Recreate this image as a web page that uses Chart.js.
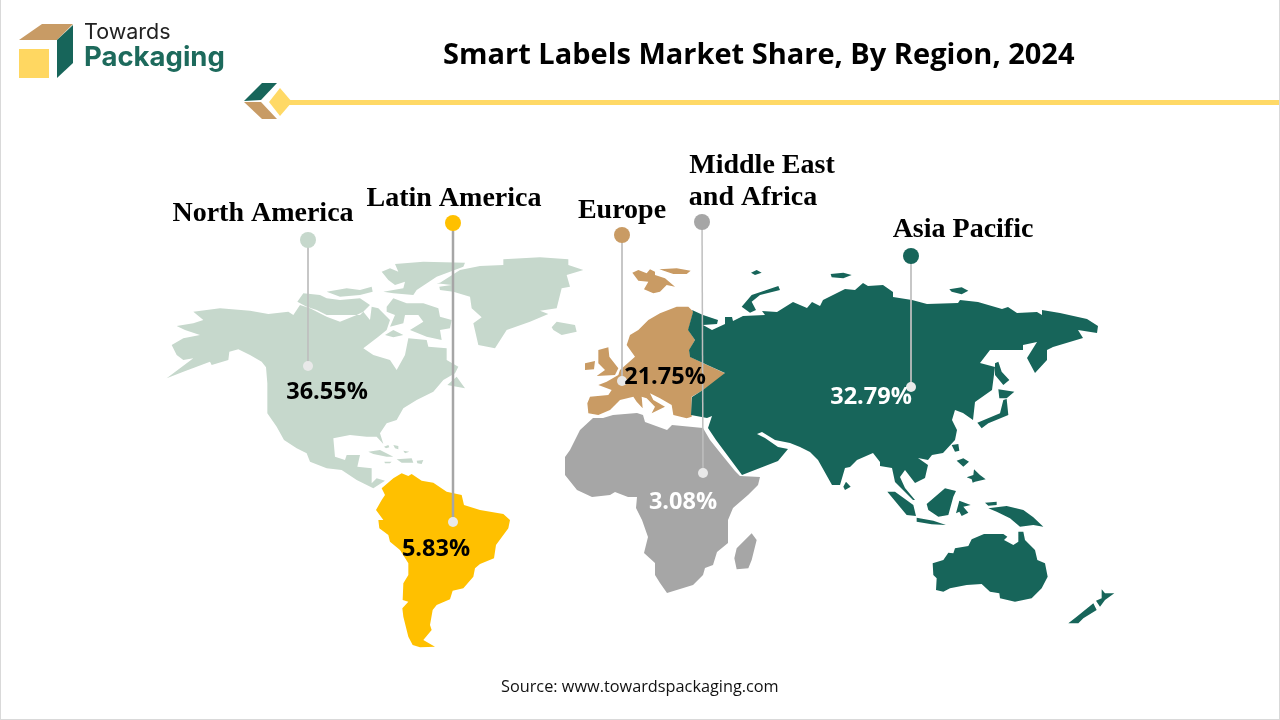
<!DOCTYPE html>
<html>
<head>
<meta charset="utf-8">
<title>Smart Labels Market Share, By Region, 2024</title>
<script src="https://cdn.jsdelivr.net/npm/chart.js@4"></script>
<style>
    html, body { margin: 0; padding: 0; background: #fff; }
    #page { position: relative; width: 1280px; height: 720px; overflow: hidden; }
    #page canvas { position: absolute; left: 0; top: 0; }
    #page svg { position: absolute; left: 0; top: 0; }
    #frame { position: absolute; left: 0; top: 0; width: 1278px; border: 1px solid #d9d9d9; border-top: 0; height: 719px; }
    .txt { position: absolute; white-space: nowrap; }
    #title { left: 443px; top: 33px; font: bold 29px "Open Sans", sans-serif; color: #000; }
    #brand1 { left: 84px; top: 18px; font: 21.5px Inter, sans-serif; color: #222; }
    #brand2 { left: 84px; top: 39px; font: bold 27.5px Inter, sans-serif; color: #1d6a5c; }
    #source { left: 501px; top: 675px; font: 16.3px "Open Sans", sans-serif; color: #111; }
</style>
</head>
<body>
<div id="page">
    <canvas id="mapa" width="1280" height="720"></canvas>
    <svg width="1280" height="130">
        <polygon points="19,40 42,24 73,24 57,40" fill="#c89b65"/>
        <polygon points="57,40 73,25 73,63 57,78" fill="#17655a"/>
        <rect x="19" y="49" width="30" height="29" fill="#ffd761"/>
        <rect x="288" y="100" width="992" height="5" fill="#ffd966"/>
        <polygon points="244,101 262,83 277,83 261,100" fill="#17655a"/>
        <polygon points="244,102 261,102 277,119 262,119" fill="#c89b65"/>
        <polygon points="269,102 280,88 292,102 280,116" fill="#ffd966"/>
    </svg>
    <div class="txt" id="brand1">Towards</div>
    <div class="txt" id="brand2">Packaging</div>
    <div class="txt" id="title">Smart Labels Market Share, By Region, 2024</div>
    <div class="txt" id="source">Source: www.towardspackaging.com</div>
    <div id="frame"></div>
</div>
<script>
const regions = ['North America', 'Latin America', 'Europe', 'Middle East\nand Africa', 'Asia Pacific'];
const shares = [36.55, 5.83, 21.75, 3.08, 32.79];

const regionColors = ['#c6d8cc', '#ffc000', '#c99b64', '#a6a6a6', '#17655a'];
const shareColors = ['#000', '#000', '#000', '#fff', '#fff'];
const pinTop = [[308, 240], [453, 223], [622, 235], [702, 222], [911, 256]];
const pinEnd = [[308, 366], [453, 522], [622, 381], [703, 473], [911, 387]];
const lineWidths = [1, 2.5, 1, 1.5, 1];
const nameSpots = [[263, 214], [454, 199], [622, 211], [762, 166], [963, 230]];
const shareSpots = [[327, 392], [436, 549], [665, 377], [683, 502], [871, 397]];

function crop(ox, oy, pts) {
    return pts.map(p => [ox + p[0] / 3, oy + p[1] / 3]);
}

const northAmerica = [
    crop(160, 240, [[20,415],[70,395],[150,365],[155,375],[205,360],[208,335],[235,328],[270,345],[305,365],[318,382],[322,430],[322,520],[350,560],[372,600],[410,625],[440,640],[450,665],[500,685],[545,690],[590,720],[640,745],[675,722],[650,715],[635,730],[635,685],[592,680],[600,645],[560,645],[555,660],[525,650],[520,595],[570,585],[620,590],[650,590],[670,612],[660,580],[680,550],[710,540],[730,505],[770,480],[820,455],[850,420],[885,400],[895,380],[860,360],[860,325],[805,320],[800,300],[745,295],[735,345],[710,390],[690,360],[640,345],[610,325],[655,290],[680,270],[690,240],[655,205],[635,200],[630,240],[610,215],[590,225],[540,245],[500,230],[450,205],[420,195],[400,225],[385,215],[325,222],[270,212],[180,205],[100,215],[130,240],[100,250],[50,258],[75,270],[120,285],[70,295],[35,315],[50,345],[70,360],[100,355],[60,385]]),
    crop(160, 240, [[412,185],[430,160],[480,165],[500,175],[540,180],[600,175],[630,195],[600,225],[545,225],[500,225],[470,210],[440,200]]),
    crop(160, 240, [[500,155],[560,145],[600,150],[635,140],[638,155],[600,165],[540,170]]),
    crop(160, 240, [[680,200],[700,175],[740,190],[790,190],[835,205],[840,230],[875,240],[870,265],[840,270],[845,300],[800,290],[750,270],[790,245],[775,225],[735,225],[730,250],[690,260],[705,225],[680,215]]),
    crop(160, 240, [[675,285],[700,270],[730,285],[700,292]]),
    crop(160, 240, [[705,72],[790,65],[915,68],[910,80],[830,110],[770,150],[760,165],[700,160],[670,155],[700,150],[730,145],[735,125],[705,135],[685,120],[665,95],[690,85],[715,95]]),
    crop(160, 240, [[840,128],[900,90],[960,78],[1030,75],[1030,58],[1140,52],[1225,58],[1225,75],[1270,90],[1220,105],[1230,140],[1205,145],[1190,205],[1140,212],[1165,222],[1110,245],[1040,270],[1005,325],[955,315],[940,250],[965,232],[935,205],[930,170],[880,155],[840,150],[838,140],[875,135],[830,130]]),
    crop(160, 240, [[1175,262],[1190,245],[1245,255],[1250,275],[1205,285],[1180,270]]),
    crop(160, 240, [[862,435],[890,410],[915,445],[890,440]]),
    crop(160, 240, [[625,635],[660,630],[700,650],[680,650],[640,642]]),
    crop(160, 240, [[710,658],[755,655],[760,668],[725,668]]),
    crop(160, 240, [[673,665],[695,665],[690,670],[675,670]]),
    crop(160, 240, [[770,662],[790,660],[785,672],[772,670]]),
    crop(160, 240, [[672,620],[685,615],[688,622],[678,625]]),
    crop(160, 240, [[700,615],[715,618],[715,628],[705,625]]),
    crop(160, 240, [[730,632],[748,635],[735,640]])
];

const latinAmerica = [
    crop(340, 440, [[125,145],[160,115],[185,100],[205,108],[215,102],[245,122],[280,128],[320,155],[365,165],[372,195],[420,210],[490,222],[510,240],[505,265],[468,315],[462,355],[420,372],[405,385],[400,410],[370,445],[338,452],[330,478],[290,495],[278,510],[270,555],[275,570],[250,600],[285,620],[240,622],[218,615],[205,590],[190,530],[187,505],[205,485],[188,480],[190,430],[205,405],[205,370],[180,330],[150,305],[145,285],[118,265],[115,240],[130,240],[108,210],[125,180],[135,165]])
];

const europe = [
    crop(570, 250, [[52,460],[60,440],[115,435],[125,420],[85,405],[110,395],[145,375],[150,360],[195,320],[170,285],[180,255],[205,240],[235,210],[270,190],[320,170],[355,170],[370,185],[355,240],[375,270],[358,300],[360,320],[400,340],[465,370],[440,395],[400,420],[365,440],[365,500],[350,505],[310,495],[305,465],[270,445],[240,430],[250,450],[285,470],[245,490],[255,470],[230,445],[215,440],[218,475],[200,455],[190,440],[150,450],[120,480],[85,495],[55,490]]),
    crop(570, 250, [[85,300],[115,292],[118,320],[145,355],[135,375],[80,378],[105,360],[85,340],[85,325]]),
    crop(570, 250, [[45,340],[75,333],[72,358],[45,360]]),
    crop(570, 250, [[187,68],[205,60],[230,70],[240,58],[255,65],[255,75],[285,85],[315,110],[290,105],[270,125],[250,130],[222,118],[235,95],[205,92]]),
    crop(570, 250, [[268,58],[320,55],[362,62],[350,72],[310,72]])
];

const africa = [
    [[570,450],[580,430],[593,418],[603,418],[613,415],[637,413],[643,415],[645,422],[667,430],[672,425],[703,428],[710,440],[722,455],[735,471],[740,476],[760,477],[758,485],[748,495],[733,508],[728,520],[728,543],[717,552],[713,565],[705,568],[703,575],[693,585],[667,593],[660,583],[655,575],[655,563],[644,553],[648,537],[642,520],[636,508],[637,497],[628,497],[615,492],[610,495],[592,497],[577,490],[565,475],[565,457]],
    crop(340, 440, [[1190,325],[1235,280],[1250,300],[1235,360],[1225,385],[1190,388],[1183,355]])
];

const asiaPacific = [
    [[692,310],[703,315],[718,320],[717,324],[703,325],[712,330],[725,324],[725,317],[732,317],[733,321],[743,316],[765,315],[762,311],[777,312],[793,302],[807,308],[812,302],[820,306],[823,300],[845,289],[855,290],[863,283],[868,286],[883,285],[893,292],[893,297],[912,300],[927,304],[958,303],[960,300],[978,302],[1002,309],[1008,307],[1017,313],[1037,312],[1042,315],[1042,310],[1060,313],[1087,319],[1098,326],[1097,333],[1078,330],[1083,338],[1053,347],[1047,350],[1047,360],[1035,373],[1027,358],[1037,342],[1023,345],[1023,350],[1013,350],[990,350],[980,363],[995,367],[992,390],[975,402],[973,420],[963,413],[955,410],[952,420],[957,430],[955,440],[943,453],[932,455],[928,460],[918,458],[928,465],[925,478],[915,483],[905,470],[900,477],[905,488],[915,500],[913,500],[895,482],[892,468],[880,466],[880,462],[873,453],[857,460],[850,467],[845,468],[840,485],[832,485],[818,460],[810,452],[800,447],[790,443],[775,440],[762,432],[757,434],[765,438],[778,447],[788,449],[778,461],[742,475],[716,440],[708,428],[712,416],[707,418],[691,415],[692,397],[703,390],[725,373],[703,363],[690,357],[689,350],[695,340],[688,330],[693,312]],
    crop(680, 250, [[185,170],[215,135],[295,108],[300,120],[240,135],[215,155],[228,180],[210,188]]),
    crop(680, 250, [[213,68],[230,60],[245,68],[225,75]]),
    crop(680, 250, [[452,72],[490,68],[515,75],[490,85],[455,82]]),
    crop(680, 250, [[808,118],[845,112],[865,122],[845,133],[815,125]]),
    crop(680, 250, [[945,340],[955,335],[965,365],[988,390],[970,405],[945,375]]),
    crop(680, 250, [[955,418],[1003,425],[980,445],[958,445]]),
    crop(680, 250, [[970,450],[980,447],[985,495],[925,520],[905,535],[892,518],[960,490]]),
    crop(800, 430, [[455,45],[475,42],[478,62],[465,65]]),
    crop(800, 430, [[470,92],[490,85],[507,95],[490,110]]),
    crop(800, 430, [[500,142],[520,135],[522,118],[540,135],[557,148],[525,155],[518,158],[515,148]]),
    crop(800, 430, [[130,170],[138,155],[152,170],[135,180]]),
    crop(800, 430, [[262,185],[285,185],[340,225],[348,258],[320,255],[295,225]]),
    crop(800, 430, [[350,263],[400,272],[438,285],[395,283],[350,275]]),
    crop(800, 430, [[380,222],[435,175],[468,183],[460,200],[445,255],[415,260],[385,240]]),
    crop(800, 430, [[468,250],[478,212],[512,225],[490,230],[505,248],[485,258],[478,245]]),
    crop(800, 430, [[555,218],[590,215],[590,225],[565,227]]),
    crop(800, 430, [[565,235],[620,228],[670,240],[700,262],[730,290],[700,285],[660,290],[630,265],[590,245]]),
    crop(800, 430, [[398,400],[430,390],[445,368],[460,370],[465,355],[505,348],[515,328],[552,312],[610,312],[622,320],[612,330],[640,345],[655,335],[655,305],[670,305],[675,330],[705,360],[712,390],[735,400],[743,440],[725,475],[695,505],[645,515],[600,505],[598,490],[570,485],[545,462],[500,465],[450,475],[430,485],[408,480],[410,445],[400,435]]),
    crop(800, 430, [[805,580],[830,560],[880,520],[890,540],[850,565],[835,580]]),
    crop(800, 430, [[888,512],[905,505],[905,478],[915,490],[943,490],[915,510],[900,530]])
];

const regionShapes = [northAmerica, latinAmerica, europe, africa, asiaPacific];

const toPoint = p => ({ x: p[0], y: p[1] });

// land masses go under the leader lines and pins
const mapaPlugin = {
    id: 'mapa',
    beforeDatasetsDraw(chart) {
        const c = chart.ctx, sx = chart.scales.x, sy = chart.scales.y;
        regionShapes.forEach((shape, i) => {
            c.fillStyle = regionColors[i];
            c.beginPath();
            shape.forEach(part => {
                part.forEach((p, k) => {
                    const px = sx.getPixelForValue(p[0]), py = sy.getPixelForValue(p[1]);
                    if (k === 0) c.moveTo(px, py); else c.lineTo(px, py);
                });
                c.closePath();
            });
            c.fill();
        });
    },
    afterDatasetsDraw(chart) {
        const c = chart.ctx, sx = chart.scales.x, sy = chart.scales.y;
        c.textBaseline = 'middle';
        regions.forEach((name, i) => {
            c.font = 'bold 28px "Liberation Serif", serif';
            c.fillStyle = '#000';
            c.textAlign = 'center';
            name.split('\n').forEach((line, k) => {
                const x = sx.getPixelForValue(nameSpots[i][0]) - (k > 0 ? 9 : 0);
                c.fillText(line, x, sy.getPixelForValue(nameSpots[i][1]) + k * 32);
            });
            c.font = 'bold 23.5px "Open Sans", sans-serif';
            c.fillStyle = shareColors[i];
            c.fillText(shares[i].toFixed(2) + '%', sx.getPixelForValue(shareSpots[i][0]), sy.getPixelForValue(shareSpots[i][1]));
        });
    }
};

const lineSets = regions.map((name, i) => ({
    label: name + ' line',
    data: [toPoint(pinTop[i]), toPoint(pinEnd[i])],
    showLine: true,
    borderColor: i === 1 ? '#a6a6a6' : '#bfbfbf',
    borderWidth: lineWidths[i],
    pointRadius: 0
}));

const ctx = document.getElementById('mapa').getContext('2d');
new Chart(ctx, {
    type: 'scatter',
    data: {
        // the first dataset is painted last, so the pins come before the lines
        datasets: [
            {
                label: 'pins',
                data: pinTop.map(toPoint),
                backgroundColor: regionColors,
                borderWidth: 0,
                pointRadius: 8
            },
            {
                label: 'anchors',
                data: pinEnd.map(toPoint),
                backgroundColor: '#e9e9e9',
                borderWidth: 0,
                pointRadius: 5
            }
        ].concat(lineSets)
    },
    options: {
        responsive: false,
        animation: false,
        devicePixelRatio: 1,
        layout: { padding: 0, autoPadding: false },
        scales: {
            x: { type: 'linear', display: false, min: 0, max: 1280 },
            y: { type: 'linear', display: false, min: 0, max: 720, reverse: true }
        },
        plugins: {
            legend: { display: false },
            tooltip: { enabled: false }
        }
    },
    plugins: [mapaPlugin]
});
</script>
</body>
</html>
